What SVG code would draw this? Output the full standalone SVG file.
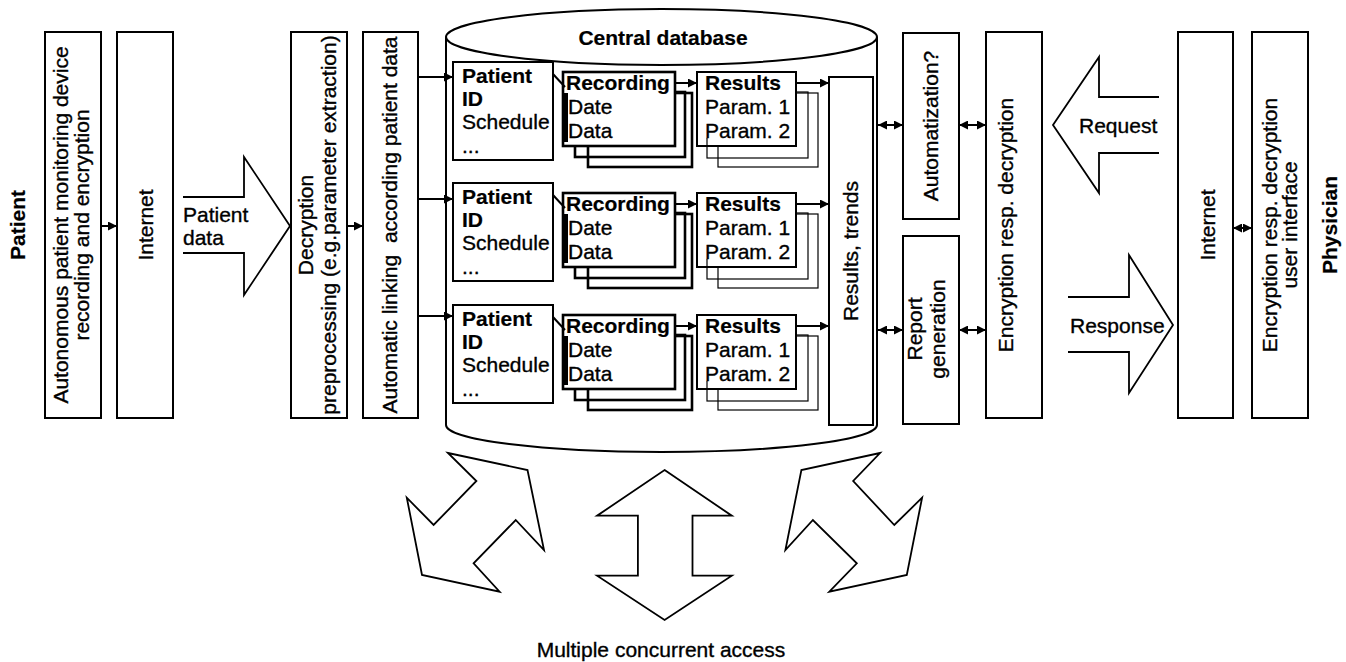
<svg xmlns="http://www.w3.org/2000/svg" width="1346" height="662" viewBox="0 0 1346 662">
<style>
text{font-family:"Liberation Sans",Arial,sans-serif;font-size:21px;fill:#000;stroke:#000;stroke-width:0.35}
.b{font-weight:bold;stroke-width:0.2}
.box{fill:#fff;stroke:#000;stroke-width:2}
.thin{fill:none;stroke:#000;stroke-width:1.2}
.thick{fill:none;stroke:#000;stroke-width:2.6}
.front{fill:#fff;stroke:#000;stroke-width:2.6}
.big{fill:#fff;stroke:#000;stroke-width:1.8;stroke-linejoin:miter}
.c{stroke:#000;stroke-width:2;fill:none}
</style>
<defs>
<marker id="ah" viewBox="0 0 10 10" refX="10" refY="5" markerWidth="9" markerHeight="9" markerUnits="userSpaceOnUse" orient="auto-start-reverse"><path d="M0,0 L10,5 L0,10 z" fill="#000"/></marker>
<g id="row">
<rect class="box" x="453" y="0" width="100" height="98"/>
<text class="b" x="462" y="21">Patient</text>
<text class="b" x="462" y="44">ID</text>
<text x="462" y="67">Schedule</text>
<text x="462" y="91">...</text>
<rect class="thick" x="588" y="31" width="104" height="74"/>
<rect class="thick" x="575" y="30" width="110" height="65"/>
<rect class="front" x="563" y="10" width="112" height="74"/>
<rect x="564" y="31" width="4" height="49" fill="#000"/>
<text class="b" x="566" y="28">Recording</text>
<text x="568" y="52">Date</text>
<text x="568" y="76">Data</text>
<rect class="thin" x="718" y="31" width="100" height="74"/>
<rect class="thin" x="707" y="30" width="101" height="66"/>
<rect class="front" x="697" y="10" width="99" height="74" style="stroke-width:2"/>
<line class="thin" x1="707" y1="76" x2="707" y2="84"/>
<text class="b" x="705" y="28">Results</text>
<text x="705" y="52">Param. 1</text>
<text x="705" y="76">Param. 2</text>
<line class="c" x1="553" y1="12" x2="565" y2="25"/>
<line class="c" x1="675" y1="21" x2="697" y2="21" marker-end="url(#ah)"/>
<line class="c" x1="796" y1="21" x2="829" y2="21" marker-end="url(#ah)"/>
</g>
</defs>

<g id="patient-label"><text class="b" transform="translate(25,225) rotate(-90)" text-anchor="middle">Patient</text></g>

<g id="device">
<rect class="box" x="45" y="32" width="56" height="386"/>
<text transform="translate(68,225) rotate(-90)" text-anchor="middle">Autonomous patient monitoring device</text>
<text transform="translate(89,225) rotate(-90)" text-anchor="middle">recording and encryption</text>
</g>

<g id="internet-left">
<rect class="box" x="117" y="32" width="56" height="386"/>
<text transform="translate(153,225) rotate(-90)" text-anchor="middle">Internet</text>
</g>

<g id="patient-data-arrow">
<path class="big" d="M183,197 H244 V157 L290,226 L244,295 V253 H183"/>
<text x="183" y="222">Patient</text>
<text x="183" y="245">data</text>
</g>

<g id="decryption">
<rect class="box" x="291" y="32" width="56" height="386"/>
<text transform="translate(313,225) rotate(-90)" text-anchor="middle">Decryption</text>
<text transform="translate(336,225) rotate(-90)" text-anchor="middle">preprocessing (e.g.parameter extraction)</text>
</g>

<g id="linking">
<rect class="box" x="363" y="32" width="55" height="386"/>
<text transform="translate(397,225) rotate(-90)" text-anchor="middle">Automatic linking &#160;according patient data</text>
</g>

<g id="database">
<path class="box" d="M446,37 V425 A215.5,27 0 0 0 877,425 V37"/>
<ellipse class="box" cx="661.5" cy="37" rx="215.5" ry="28"/>
<text class="b" x="663" y="45" text-anchor="middle">Central database</text>
</g>

<g id="record-row-1"><use href="#row" y="62"/></g>
<g id="record-row-2"><use href="#row" y="183"/></g>
<g id="record-row-3"><use href="#row" y="305"/></g>

<g id="results-trends">
<rect class="box" x="829" y="77" width="44" height="348"/>
<text transform="translate(858,251) rotate(-90)" text-anchor="middle">Results, trends</text>
</g>

<g id="automatization">
<rect class="box" x="903" y="33" width="56" height="186"/>
<text transform="translate(938,126) rotate(-90)" text-anchor="middle">Automatization?</text>
</g>

<g id="report">
<rect class="box" x="903" y="236" width="56" height="188"/>
<text transform="translate(922,329) rotate(-90)" text-anchor="middle">Report</text>
<text transform="translate(945,329) rotate(-90)" text-anchor="middle">generation</text>
</g>

<g id="encryption">
<rect class="box" x="986" y="32" width="56" height="386"/>
<text transform="translate(1013,225) rotate(-90)" text-anchor="middle">Encryption resp. decryption</text>
</g>

<g id="request-arrow">
<path class="big" d="M1159,97 H1099 V57 L1053,125 L1099,193 V153 H1159"/>
<text x="1079" y="133">Request</text>
</g>

<g id="response-arrow">
<path class="big" d="M1068,297 H1129 V255 L1173,325 L1129,393 V352 H1068"/>
<text x="1070" y="333">Response</text>
</g>

<g id="internet-right">
<rect class="box" x="1178" y="32" width="55" height="386"/>
<text transform="translate(1215,225) rotate(-90)" text-anchor="middle">Internet</text>
</g>

<g id="user-interface">
<rect class="box" x="1252" y="32" width="56" height="386"/>
<text transform="translate(1277,225) rotate(-90)" text-anchor="middle">Encryption resp. decryption</text>
<text transform="translate(1297,225) rotate(-90)" text-anchor="middle">user interface</text>
</g>

<g id="physician-label"><text class="b" transform="translate(1337,225) rotate(-90)" text-anchor="middle">Physician</text></g>

<g id="access-arrows">
<path class="big" d="M448,453 L527.5,470 L544,550 L515.7,520 L473.6,563.3 L499.6,591.7 L422,575 L406.8,497.7 L433.6,525 L476.4,481 Z"/>
<path class="big" d="M664.6,470 L731.8,515.7 L692.5,515.7 L692.5,575.7 L731.8,575.7 L664.6,620 L597.1,575.7 L637.9,575.7 L637.9,515.7 L597.1,515.7 Z"/>
<path class="big" d="M880,453 L801.4,470 L785.4,550 L812.9,520 L856.8,563.3 L829.3,591.7 L906.8,575 L922.1,497.7 L894.3,525 L853.2,481 Z"/>
<text x="661" y="657" text-anchor="middle">Multiple concurrent access</text>
</g>

<g id="connectors">
<line class="c" x1="101" y1="226" x2="117" y2="226" marker-end="url(#ah)"/>
<line class="c" x1="347" y1="226" x2="363" y2="226" marker-end="url(#ah)"/>
<line class="c" x1="418" y1="77" x2="453" y2="77" marker-end="url(#ah)"/>
<line class="c" x1="418" y1="199" x2="453" y2="199" marker-end="url(#ah)"/>
<line class="c" x1="418" y1="316" x2="453" y2="316" marker-end="url(#ah)"/>
<line class="c" x1="878" y1="125" x2="903" y2="125" marker-start="url(#ah)" marker-end="url(#ah)"/>
<line class="c" x1="959" y1="125" x2="986" y2="125" marker-start="url(#ah)" marker-end="url(#ah)"/>
<line class="c" x1="878" y1="330" x2="903" y2="330" marker-start="url(#ah)" marker-end="url(#ah)"/>
<line class="c" x1="959" y1="330" x2="986" y2="330" marker-start="url(#ah)" marker-end="url(#ah)"/>
<line class="c" x1="1233" y1="228" x2="1252" y2="228" marker-start="url(#ah)" marker-end="url(#ah)"/>
</g>
</svg>
